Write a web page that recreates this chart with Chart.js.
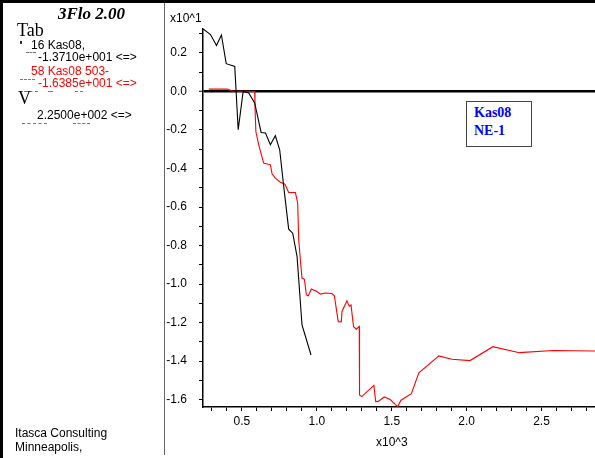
<!DOCTYPE html>
<html>
<head>
<meta charset="utf-8">
<script src="https://cdn.jsdelivr.net/npm/chart.js@4/dist/chart.umd.min.js"></script>
<style>
  html, body { margin: 0; padding: 0; background: #fff; }
  #wrap { position: relative; width: 595px; height: 458px; overflow: hidden; }
  #chart { position: absolute; left: 0; top: 0; }
  .txt { position: absolute; white-space: nowrap; font-family: "Liberation Sans", Arial, sans-serif; font-size: 12px; line-height: 14px; color: #000; }
  .serif { font-family: "Liberation Serif", "Times New Roman", serif; }
  .dash { position: absolute; height: 0; border-top: 1px dashed #777; }
  .rd { border-color: #f44; }
</style>
</head>
<body>
<div id="wrap">
  <canvas id="chart" width="595" height="458"></canvas>

  <!-- frame -->
  <div style="position:absolute;left:0;top:0;width:595px;height:3px;background:#000"></div>
  <div style="position:absolute;left:0;top:0;width:3px;height:458px;background:#000"></div>
  <div style="position:absolute;left:164px;top:3px;width:1px;height:452px;background:#666"></div>

  <!-- left panel -->
  <div class="txt serif" style="left:58px;top:4px;font-size:17px;line-height:20px;font-weight:bold;font-style:italic">3Flo 2.00</div>
  <div class="txt serif" style="left:17px;top:20px;font-size:18px;line-height:21px">Tab</div>
  <div style="position:absolute;left:20px;top:41px;width:2px;height:3px;background:#333"></div>
  <div class="txt" style="left:31px;top:38px">16 Kas08,</div>
  <div class="dash" style="left:26px;top:52px;width:10px"></div>
  <div class="txt" style="left:38px;top:50px">-1.3710e+001 &lt;=&gt;</div>
  <div class="txt" style="left:31px;top:64px;color:#f00">58 Kas08 503-</div>
  <div class="dash rd" style="left:20px;top:79px;width:15px"></div>
  <div class="txt" style="left:38px;top:76px;color:#f00">-1.6385e+001 &lt;=&gt;</div>
  <div class="dash rd" style="left:24px;top:91px;width:14px"></div>
  <div class="dash rd" style="left:48px;top:91px;width:5px"></div>
  <div class="dash rd" style="left:75px;top:91px;width:8px"></div>
  <div class="txt serif" style="left:18px;top:88px;font-size:18px;line-height:21px">V</div>
  <div class="txt" style="left:37px;top:108px">2.2500e+002 &lt;=&gt;</div>
  <div class="dash" style="left:22px;top:123px;width:25px"></div>
  <div class="dash" style="left:73px;top:123px;width:17px"></div>
  <div class="txt" style="left:15px;top:426px">Itasca Consulting</div>
  <div class="txt" style="left:15px;top:440px">Minneapolis,</div>

  <!-- axis exponents -->
  <div class="txt" style="left:170px;top:11px">x10^1</div>
  <div class="txt" style="left:376px;top:435px">x10^3</div>

  <!-- legend box -->
  <div style="position:absolute;left:466px;top:101px;width:64px;height:44px;border:1px solid #444;background:#fff"></div>
  <div class="txt serif" style="left:474px;top:104px;font-size:14px;line-height:18px;font-weight:bold;color:#0000ff">Kas08<br>NE-1</div>
</div>

<script>
// black history (Kas08)
const blackX = [0.241, 0.29, 0.33, 0.363, 0.395, 0.452, 0.475, 0.508, 0.545, 0.585, 0.628, 0.657, 0.69, 0.723, 0.752, 0.779, 0.812, 0.839, 0.868, 0.901, 0.961];
const blackY = [0.324, 0.295, 0.238, 0.293, 0.144, 0.130, -0.199, 0.0, -0.008, -0.060, -0.213, -0.216, -0.277, -0.230, -0.303, -0.494, -0.715, -0.736, -0.857, -1.212, -1.368];

// red history (Kas08 503-)
const redX = [0.279, 0.401, 0.435, 0.585, 0.587, 0.593, 0.612, 0.645, 0.69, 0.701, 0.723, 0.757, 0.787, 0.812, 0.857, 0.872, 0.879, 0.89, 0.901, 0.917, 0.93, 0.943, 0.963, 1.001, 1.023, 1.057, 1.101, 1.117, 1.143, 1.163, 1.168, 1.201, 1.217, 1.228, 1.245, 1.263, 1.283, 1.285, 1.3, 1.381, 1.393, 1.41, 1.45, 1.49, 1.539, 1.562, 1.631, 1.681, 1.815, 1.901, 2.023, 2.175, 2.352, 2.579, 2.857];
const redY = [0.012, 0.012, 0.002, 0.0, -0.078, -0.208, -0.277, -0.372, -0.381, -0.428, -0.450, -0.472, -0.482, -0.525, -0.525, -0.580, -0.770, -0.874, -0.969, -0.975, -1.056, -1.061, -1.026, -1.039, -1.052, -1.046, -1.049, -1.061, -1.195, -1.196, -1.142, -1.087, -1.116, -1.108, -1.221, -1.234, -1.220, -1.576, -1.584, -1.526, -1.610, -1.609, -1.586, -1.599, -1.636, -1.603, -1.569, -1.460, -1.373, -1.390, -1.397, -1.325, -1.356, -1.345, -1.347];

// ticks
const xMajor = [0.5, 1.0, 1.5, 2.0, 2.5];
const xMinor = [0.3, 0.4, 0.6, 0.7, 0.8, 0.9, 1.1, 1.2, 1.3, 1.4, 1.6, 1.7, 1.8, 1.9, 2.1, 2.2, 2.3, 2.4, 2.6, 2.7, 2.8];
const yMajor = [0.2, 0.0, -0.2, -0.4, -0.6, -0.8, -1.0, -1.2, -1.4, -1.6];
const yMinor = [0.3, 0.1, -0.1, -0.3, -0.5, -0.7, -0.9, -1.1, -1.3, -1.5];

const xRange = [0.24, 2.857];
const yRange = [-1.638, 0.324];

function toPoints(xs, ys) {
    return xs.map((x, i) => ({ x: x, y: ys[i] }));
}

function setTicks(major, minor) {
    return function(scale) {
        const all = major.map(v => ({ value: v, major: true }))
            .concat(minor.map(v => ({ value: v, major: false })));
        all.sort((a, b) => a.value - b.value);
        scale.ticks = all;
    };
}

function tickLabel(majors) {
    return function(value) {
        return majors.indexOf(value) >= 0 ? value.toFixed(1) : '';
    };
}

const tickFont = { family: '"Liberation Sans", Arial, sans-serif', size: 12 };

new Chart(document.getElementById('chart'), {
    type: 'line',
    data: {
        datasets: [{
            label: 'Kas08',
            data: toPoints(blackX, blackY),
            borderColor: '#000000',
            borderWidth: 1.1,
            pointRadius: 0,
            tension: 0
        }, {
            label: 'Kas08 503-',
            data: toPoints(redX, redY),
            borderColor: '#ff0000',
            borderWidth: 1.1,
            pointRadius: 0,
            tension: 0
        }]
    },
    options: {
        responsive: false,
        animation: false,
        events: [],
        layout: { padding: { top: 29, left: 0, right: 0, bottom: 0 } },
        plugins: {
            legend: { display: false },
            tooltip: { enabled: false },
            title: { display: false }
        },
        scales: {
            x: {
                type: 'linear',
                min: xRange[0],
                max: xRange[1],
                afterBuildTicks: setTicks(xMajor, xMinor),
                afterFit: s => { s.height = 51; },
                border: { display: true, color: '#000', width: 1.5 },
                grid: {
                    drawOnChartArea: false,
                    drawTicks: true,
                    tickLength: 4,
                    tickColor: '#000',
                    tickWidth: 1
                },
                ticks: {
                    autoSkip: false,
                    maxRotation: 0,
                    padding: 3,
                    color: '#000',
                    font: tickFont,
                    callback: tickLabel(xMajor)
                }
            },
            y: {
                type: 'linear',
                min: yRange[0],
                max: yRange[1],
                afterBuildTicks: setTicks(yMajor, yMinor),
                afterFit: s => { s.width = 203; },
                border: { display: true, color: '#000', width: 1.5 },
                grid: {
                    drawOnChartArea: true,
                    color: c => (c.tick && c.tick.value === 0) ? '#000' : 'rgba(0,0,0,0)',
                    lineWidth: c => (c.tick && c.tick.value === 0) ? 2.5 : 1,
                    drawTicks: true,
                    tickLength: 4,
                    tickColor: '#000',
                    tickWidth: 1
                },
                ticks: {
                    autoSkip: false,
                    padding: 12,
                    color: '#000',
                    font: tickFont,
                    callback: tickLabel(yMajor)
                }
            }
        }
    }
});
</script>
</body>
</html>
